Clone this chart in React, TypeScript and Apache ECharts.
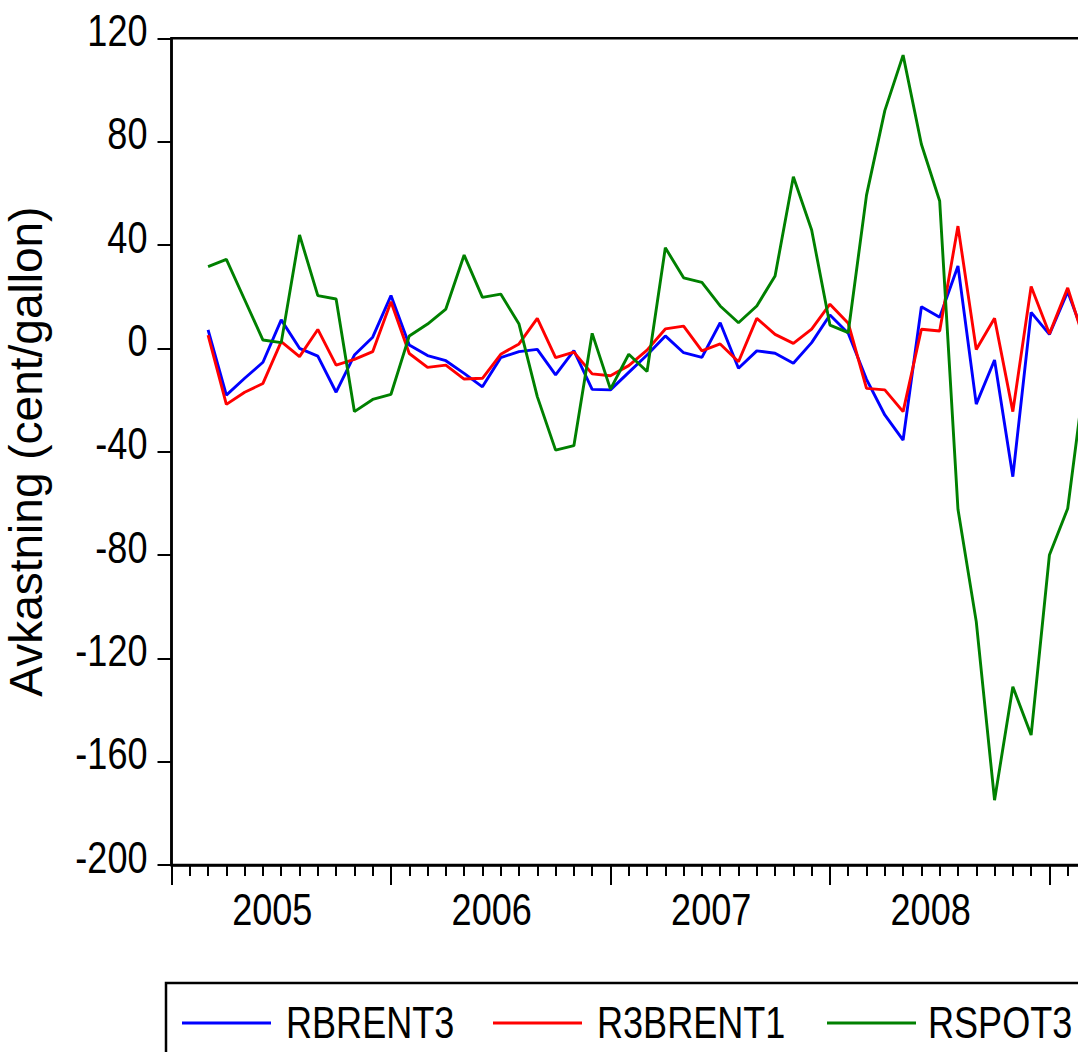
import React, { useEffect, useRef } from "react";
import * as echarts from "echarts";

// Monthly observations, 2005M03 .. 2009M03
const months = [
  "2005M03","2005M04","2005M05","2005M06","2005M07","2005M08","2005M09","2005M10","2005M11","2005M12",
  "2006M01","2006M02","2006M03","2006M04","2006M05","2006M06","2006M07","2006M08","2006M09","2006M10","2006M11","2006M12",
  "2007M01","2007M02","2007M03","2007M04","2007M05","2007M06","2007M07","2007M08","2007M09","2007M10","2007M11","2007M12",
  "2008M01","2008M02","2008M03","2008M04","2008M05","2008M06","2008M07","2008M08","2008M09","2008M10","2008M11","2008M12",
  "2009M01","2009M02","2009M03",
];

const rbrent3 = [
  7.1, -18.1, -11.6, -5.4, 11, 0, -3, -17, -2.6, 4.3,
  20.4, 1.3, -2.8, -4.8, -9.7, -14.9, -3.6, -1.3, -0.4, -10.3, -0.9, -15.9,
  -16.1, -9.3, -2.6, 4.8, -1.7, -3.5, 9.9, -7.7, -1, -1.9, -5.8, 2.2,
  12.9, 5.8, -12, -25.8, -35.5, 16.1, 12, 31.9, -21.6, -4.5, -49.7, 13.9,
  5.4, 21.9, 2.7,
];

const r3brent1 = [
  5.1, -21.7, -17, -13.6, 2.6, -3.2, 7.3, -6.5, -4.3, -1.3,
  18, -2, -7.4, -6.5, -11.9, -11.6, -2.3, 1.7, 11.6, -3.6, -1.5, -9.9,
  -10.6, -6.7, -0.7, 7.5, 8.6, -1, 1.7, -5.2, 11.6, 5.4, 1.9, 7.4,
  17.1, 9.7, -15.5, -16.1, -24.5, 7.4, 6.7, 47.3, -0.5, 11.6, -24.5, 23.9,
  5.6, 23.4, 0.8,
];

const rspot3 = [
  31.6, 34.4, 18.8, 3.2, 2.2, 43.9, 20.4, 19.1, -24.5, -19.8,
  -17.8, 4.8, 9.4, 15.2, 36.1, 19.7, 21, 9.4, -18.7, -39.4, -37.7, 5.8,
  -15.8, -2.3, -9, 38.9, 27.3, 25.5, 16.4, 9.9, 16.4, 28, 66.4, 45.8,
  9, 6.1, 59.3, 92, 113.5, 79, 57, -62.3, -105.8, -174.9, -131, -149.7,
  -80, -62, -7,
];

const seriesNames = ["RBRENT3", "R3BRENT1", "RSPOT3"];
const seriesColors = ["#0000FF", "#FF0000", "#008000"];
const yTickLabels = [-200, -160, -120, -80, -40, 0, 40, 80, 120];
const yearLabels = ["2005", "2006", "2007", "2008"];
const yTitle = "Avkastning (cent/gallon)";
const firstYear = 2005;

// months since Jan of firstYear
const monthIndex = (m: string) =>
  (parseInt(m.slice(0, 4), 10) - firstYear) * 12 + parseInt(m.slice(5), 10) - 1;

const FONT = "'Liberation Sans', Arial, Helvetica, sans-serif";
const NARROW_SCALE = 0.82;
const LABEL_SIZE = 44;

export default function App() {
  const ref = useRef<HTMLDivElement>(null);

  useEffect(() => {
    if (!ref.current) return;
    const chart = echarts.init(ref.current, undefined, { renderer: "svg" });
    const values = [rbrent3, r3brent1, rspot3];
    const monthPx = 18.29;
    const xMax = 54;

    chart.setOption({
      animation: false,
      backgroundColor: "#ffffff",
      grid: {
        left: 171.5,
        top: 38.3,
        width: monthPx * xMax,
        height: 826.7,
        show: true,
        borderColor: "#000",
        borderWidth: 2.5,
        backgroundColor: "transparent",
        containLabel: false,
        outerBoundsMode: "none",
      },
      xAxis: {
        type: "value",
        min: 0,
        max: xMax,
        interval: 12,
        axisLine: { show: true, onZero: false, lineStyle: { color: "#000", width: 2.5 } },
        axisTick: { show: true, inside: false, length: 20, lineStyle: { color: "#000", width: 2 } },
        minorTick: { show: true, splitNumber: 12, length: 11, lineStyle: { color: "#000", width: 2 } },
        splitLine: { show: false },
        minorSplitLine: { show: false },
        axisLabel: { show: false },
      },
      yAxis: {
        type: "value",
        min: yTickLabels[0],
        max: yTickLabels[yTickLabels.length - 1],
        interval: yTickLabels[1] - yTickLabels[0],
        name: yTitle,
        nameLocation: "middle",
        nameRotate: 90,
        nameGap: 123,
        nameTextStyle: { color: "#000", fontFamily: FONT, fontSize: 46 },
        axisLine: { show: true, onZero: false, lineStyle: { color: "#000", width: 2.5 } },
        axisTick: { show: true, inside: false, length: 14, lineStyle: { color: "#000", width: 2 } },
        splitLine: { show: false },
        axisLabel: { show: false },
      },
      series: seriesNames.map((name, k) => ({
        name,
        type: "line",
        showSymbol: false,
        symbol: "none",
        color: seriesColors[k],
        lineStyle: { color: seriesColors[k], width: 2.9 },
        data: months.map((m, i) => [monthIndex(m), values[k][i]]),
      })),
    });

    const px = (v: number) => chart.convertToPixel({ xAxisIndex: 0 }, v) as number;
    const py = (v: number) => chart.convertToPixel({ yAxisIndex: 0 }, v) as number;
    const axisX = px(0);
    const axisY = py(yTickLabels[0]);

    const narrowText = (text: string, x: number, y: number, align: string) => ({
      type: "text",
      x,
      y,
      scaleX: NARROW_SCALE,
      silent: true,
      style: {
        text,
        fill: "#000",
        fontFamily: FONT,
        fontSize: LABEL_SIZE,
        textAlign: align,
        textVerticalAlign: "middle",
      },
    });

    const graphics: any[] = [];
    // y tick labels
    yTickLabels.forEach((v) => {
      graphics.push(narrowText(String(v), axisX - 24, py(v) - 7, "right"));
    });
    // year labels, centred over each year
    yearLabels.forEach((y) => {
      const start = (parseInt(y, 10) - firstYear) * 12;
      graphics.push(narrowText(y, (px(start) + px(start + 12)) / 2 - 9, axisY + 45, "center"));
    });
    // legend box
    const legendTop = axisY + 118;
    const legendMid = legendTop + 40;
    graphics.push({
      type: "rect",
      silent: true,
      shape: { x: axisX - 5.5, y: legendTop, width: 1000, height: 200 },
      style: { fill: "none", stroke: "#000", lineWidth: 2.5 },
    });
    const legendItems = [
      { lineX: 182, textX: 286 },
      { lineX: 493, textX: 597 },
      { lineX: 827, textX: 928 },
    ];
    seriesNames.forEach((name, k) => {
      const it = legendItems[k];
      graphics.push({
        type: "line",
        silent: true,
        shape: { x1: it.lineX, y1: legendMid, x2: it.lineX + 89, y2: legendMid },
        style: { stroke: seriesColors[k], lineWidth: 3 },
      });
      graphics.push(narrowText(name, it.textX, legendMid, "left"));
    });

    chart.setOption({ graphic: graphics });

    return () => chart.dispose();
  }, []);

  return (
    <div
      style={{
        position: "fixed",
        left: 0,
        top: 0,
        width: 1078,
        height: 1052,
        overflow: "hidden",
        background: "#fff",
      }}
    >
      <div ref={ref} style={{ width: 1220, height: 1120 }} />
    </div>
  );
}
